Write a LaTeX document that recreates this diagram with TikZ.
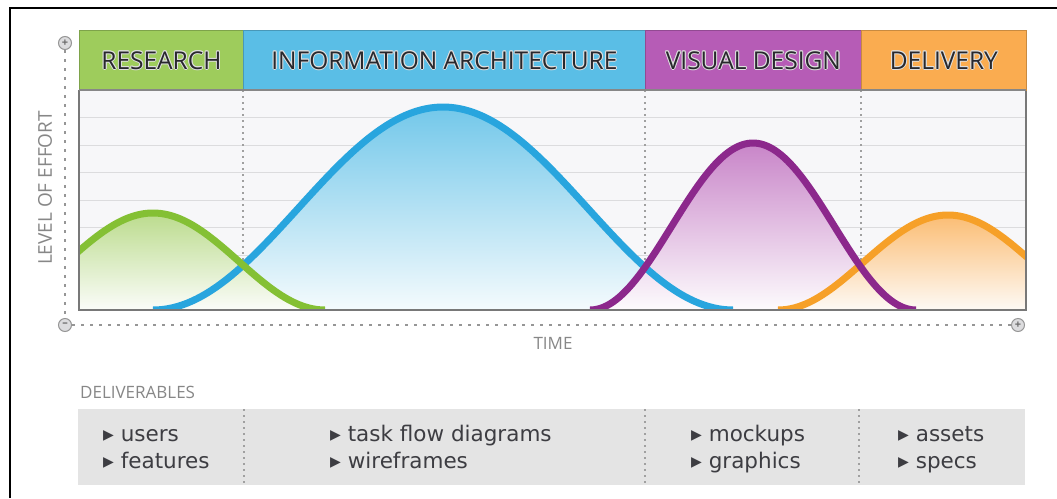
\documentclass[tikz,border=0pt]{standalone}
\usepackage{fontspec}
\setmainfont{Open Sans}
\newfontfamily\delfont{DejaVu Sans}
\definecolor{hgreen}{RGB}{158,204,92}
\definecolor{hblue}{RGB}{90,190,230}
\definecolor{hpurple}{RGB}{182,92,182}
\definecolor{horange}{RGB}{250,172,80}
\definecolor{cgreen}{RGB}{132,192,52}
\definecolor{cblue}{RGB}{40,165,222}
\definecolor{cpurple}{RGB}{140,40,140}
\definecolor{corange}{RGB}{246,160,40}
\definecolor{plotbg}{RGB}{247,247,249}
\definecolor{gridc}{RGB}{220,220,222}
\definecolor{axisc}{RGB}{150,150,150}
\definecolor{txt}{RGB}{40,40,45}
\definecolor{delbg}{RGB}{228,228,228}
\newcommand{\hl}[3]{\rlap{\hspace{#1}\raisebox{#2}{\color{white!75!gray}#3}}}
\newcommand{\halotext}[1]{\hl{1pt}{0pt}{#1}\hl{-1pt}{0pt}{#1}\hl{0pt}{1pt}{#1}\hl{0pt}{-1pt}{#1}\hl{0.7pt}{0.7pt}{#1}\hl{-0.7pt}{0.7pt}{#1}\hl{0.7pt}{-0.7pt}{#1}\hl{-0.7pt}{-0.7pt}{#1}#1}
\tikzset{
  hdr/.style={anchor=north west, inner sep=0pt, minimum height=60pt, draw=#1!80!black, line width=0.8pt, fill=#1, text=txt, font=\fontsize{24.5}{24.5}\selectfont},
  curve/.style={line width=7pt},
  dots/.style={axisc, line width=1.8pt, dash pattern=on 3pt off 6pt},
  vdiv/.style={axisc!90, line width=1.2pt, dash pattern=on 2pt off 4pt},
  endmark/.style={circle, draw=axisc, fill=gridc, line width=1pt, minimum size=13pt, inner sep=0pt, text=axisc!70!black, font=\fontsize{11}{11}\selectfont\bfseries},
  deliv/.style={anchor=base west, align=left, text=txt!90, font=\delfont\fontsize{21.5}{27}\selectfont, inner sep=0pt},
  gray label/.style={text=axisc!90!black, font=\fontsize{17}{17}\selectfont}
}
\newcommand{\bump}[3]{310-#1*(1+cos(((\x-#2)/#3)*180))/2}
\begin{document}
\begin{tikzpicture}[x=1pt,y=-1pt]
\useasboundingbox (0,0) rectangle (1057,498);
\fill[white] (0,0) rectangle (1057,498);
% outer frame
\draw[black, line width=2pt] (10,498) -- (10,8) -- (1057,8);

% plot area
\fill[plotbg] (79,90) rectangle (1026,310);
\foreach \yy in {117.5,145,172.5,200,227.5,255,282.5}
  \draw[gridc, line width=1pt] (79,\yy) -- (1026,\yy);
\foreach \xx in {243,645,861}
  \draw[vdiv] (\xx,90) -- (\xx,310);

\begin{scope}
\clip (79,90) rectangle (1026,310);
% fills
\fill[top color=hblue!85, bottom color=plotbg!60!hblue!15] (153,310) -- plot[domain=153:733, samples=120] (\x, {\bump{203}{443}{290}}) -- cycle;
\fill[top color=hgreen!70, bottom color=plotbg!80!hgreen!15] (79,310) -- plot[domain=79:325, samples=80] (\x, {\bump{97}{153}{172}}) -- (325,310) -- cycle;
\fill[top color=hpurple!75, bottom color=plotbg!80!hpurple!10] (590,310) -- plot[domain=590:916, samples=100] (\x, {\bump{167}{753}{163}}) -- cycle;
\fill[top color=horange!80, bottom color=plotbg!75!horange!20] (778,310) -- plot[domain=778:1118, samples=100] (\x, {\bump{95}{948}{170}}) -- cycle;
% strokes
\draw[curve, cblue] plot[domain=153:733, samples=120] (\x, {\bump{203}{443}{290}});
\draw[curve, corange] plot[domain=778:1118, samples=100] (\x, {\bump{95}{948}{170}});
\draw[curve, cgreen] plot[domain=60:325, samples=80] (\x, {\bump{97}{153}{172}});
\draw[curve, cpurple] plot[domain=590:916, samples=100] (\x, {\bump{167}{753}{163}});
\end{scope}

% plot frame
\draw[axisc!80!black, line width=2pt] (79,90) -- (79,310) -- (1026,310) -- (1026,30);

% headers
\node[hdr=hgreen, minimum width=164pt] (research) at (79,30) {\halotext{RESEARCH}};
\node[hdr=hblue, minimum width=402pt] (ia) at (243,30) {\halotext{INFORMATION ARCHITECTURE}};
\node[hdr=hpurple, minimum width=216pt] (vd) at (645,30) {\halotext{VISUAL DESIGN}};
\node[hdr=horange, minimum width=165pt] (delivery) at (861,30) {\halotext{DELIVERY}};
\draw[axisc!90!black, line width=1.5pt] (79,90) -- (1026,90);

% axes
\node[endmark] (ytop) at (65,43) {+};
\node[endmark] (origin) at (65,325) {\raisebox{0.5pt}{--}};
\node[endmark] (xend) at (1018,325) {+};
\draw[dots] (ytop) -- (origin);
\draw[dots] (origin) -- (xend);
\node[gray label, rotate=90, font=\fontsize{19}{19}\selectfont] (effort) at (45,188) {LEVEL OF EFFORT};
\node[gray label] (time) at (553,343) {TIME};

% deliverables
\node[gray label, anchor=west, inner sep=0pt] (dtitle) at (80,392) {DELIVERABLES};
\fill[delbg] (78,409) rectangle (1025,485);
\foreach \xx in {244,645,859}
  \draw[vdiv] (\xx,409) -- (\xx,485);
\node[deliv] (d1) at (103,468) {▸ users\\▸ features};
\node[deliv] (d2) at (330,468) {▸ task flow diagrams\\▸ wireframes};
\node[deliv] (d3) at (691,468) {▸ mockups\\▸ graphics};
\node[deliv] (d4) at (898,468) {▸ assets\\▸ specs};
\end{tikzpicture}
\end{document}
